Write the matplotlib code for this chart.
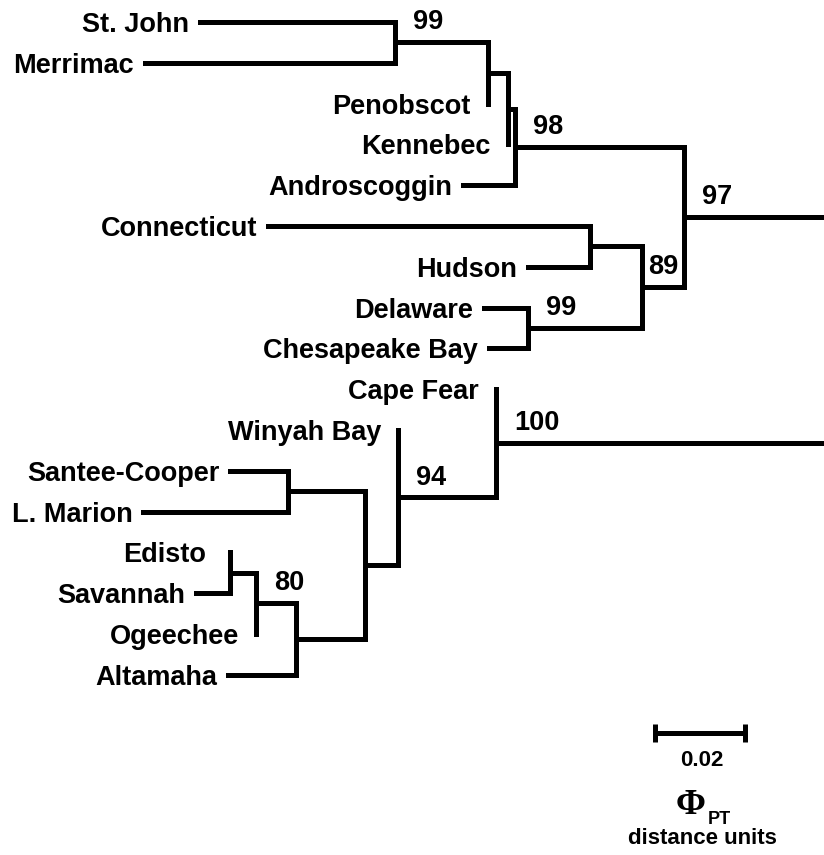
import matplotlib.pyplot as plt

plt.rcParams['font.family'] = ['Liberation Sans', 'DejaVu Sans']
plt.rcParams['font.weight'] = 'bold'

# tree edges (parent -> child) with branch lengths in PhiPT distance units
parent = ["root", "root",
          "n97", "n97", "n98", "n98", "nC", "nC", "nB", "nB", "n99a", "n99a",
          "n89", "n89", "nF", "nF", "n99b", "n99b",
          "n100", "n100", "n94", "n94", "nJ", "nJ", "nK", "nK",
          "nN", "nN", "n80", "n80", "nL", "nL"]
child = ["n97", "n100",
         "n98", "n89", "nC", "Androscoggin", "nB", "Kennebec", "n99a", "Penobscot",
         "St. John", "Merrimac",
         "nF", "n99b", "Connecticut", "Hudson", "Delaware", "Chesapeake Bay",
         "Cape Fear", "n94", "Winyah Bay", "nJ", "nK", "nN",
         "Santee-Cooper", "L. Marion",
         "n80", "Altamaha", "nL", "Ogeechee", "Edisto", "Savannah"]
blen = [0.0324, 0.0742,
        0.0376, 0.0093, 0.0016, 0.0116, 0.0044, 0.0, 0.0207, 0.0,
        0.0433, 0.0556,
        0.0116, 0.0253, 0.0716, 0.0138, 0.0098, 0.0087,
        0.0, 0.0218, 0.0, 0.0073, 0.0171, 0.0153,
        0.0129, 0.0322,
        0.0089, 0.0151, 0.0058, 0.0, 0.0, 0.0076]

# bootstrap support
boot_node = ["n99a", "n98", "n97", "n89", "n99b", "n100", "n94", "n80"]
boot_val = [99, 98, 97, 89, 99, 100, 94, 80]

scale_len = 0.02

kids = {}
edge_len = {}
for p, c, b in zip(parent, child, blen):
    kids.setdefault(p, []).append((c, b))
    edge_len[c] = b

depth = {"root": 0.0}
ypos = {}
leaves = []


def layout(node):
    for c, b in kids.get(node, []):
        depth[c] = depth[node] + b
        layout(c)
    if node in kids:
        ys = [ypos[c] for c, _ in kids[node]]
        ypos[node] = (ys[0] + ys[-1]) / 2
    else:
        ypos[node] = len(leaves)
        leaves.append(node)


layout("root")

fig = plt.figure(figsize=(8.24, 8.55), dpi=100)
ax = fig.add_axes([0, 0, 1, 1])
ax.axis('off')

lw = 3.6
kw = dict(color='black', lw=lw, solid_capstyle='projecting')
for node, cl in kids.items():
    ys = [ypos[c] for c, _ in cl]
    ax.plot([depth[node], depth[node]], [ys[0], ys[-1]], **kw)
    for c, _ in cl:
        ax.plot([depth[node], depth[c]], [ypos[c], ypos[c]], **kw)

for leaf in leaves:
    gap = 17 if edge_len[leaf] == 0 else 11
    if leaf == "Edisto":
        gap = 24
    ax.annotate(leaf, (depth[leaf], ypos[leaf]), xytext=(-gap * 0.72, 0),
                textcoords='offset points', ha='right', va='center_baseline',
                fontsize=19.5, fontweight='bold')

for n, v in zip(boot_node, boot_val):
    dx = 6 if v == 89 else 18
    ax.annotate(str(v), (depth[n], ypos[n]), xytext=(dx * 0.72, 16.5),
                textcoords='offset points', ha='left', va='center_baseline',
                fontsize=19.5, fontweight='bold')

# view: root just right of the frame, x grows to the left
px_per_unit = 4500
ax.set_xlim(830 / px_per_unit, 6 / px_per_unit)
ax.set_ylim(20.42, -0.539)

# scale bar
sx0 = 0.0389
sy = 17.43
ax.plot([sx0, sx0 - scale_len], [sy, sy], color='black', lw=lw, solid_capstyle='butt')
for sx in (sx0, sx0 - scale_len):
    ax.plot([sx, sx], [sy - 0.22, sy + 0.22], color='black', lw=lw, solid_capstyle='butt')

ax.text(0.852, 1 - 760 / 855, "0.02", transform=ax.transAxes, ha='center',
        va='center', fontsize=16, fontweight='bold')
ax.text(691 / 824, 1 - 805 / 855, "\u03a6", transform=ax.transAxes, ha='center',
        va='center', fontsize=26, fontweight='bold', family=['Liberation Serif', 'DejaVu Serif'])
ax.text(708 / 824, 1 - 819 / 855, "PT", transform=ax.transAxes, ha='left',
        va='center', fontsize=13, fontweight='bold')
ax.text(0.852, 1 - 838 / 855, "distance units", transform=ax.transAxes, ha='center',
        va='center', fontsize=16, fontweight='bold')

fig.savefig("out.png", dpi=100)
